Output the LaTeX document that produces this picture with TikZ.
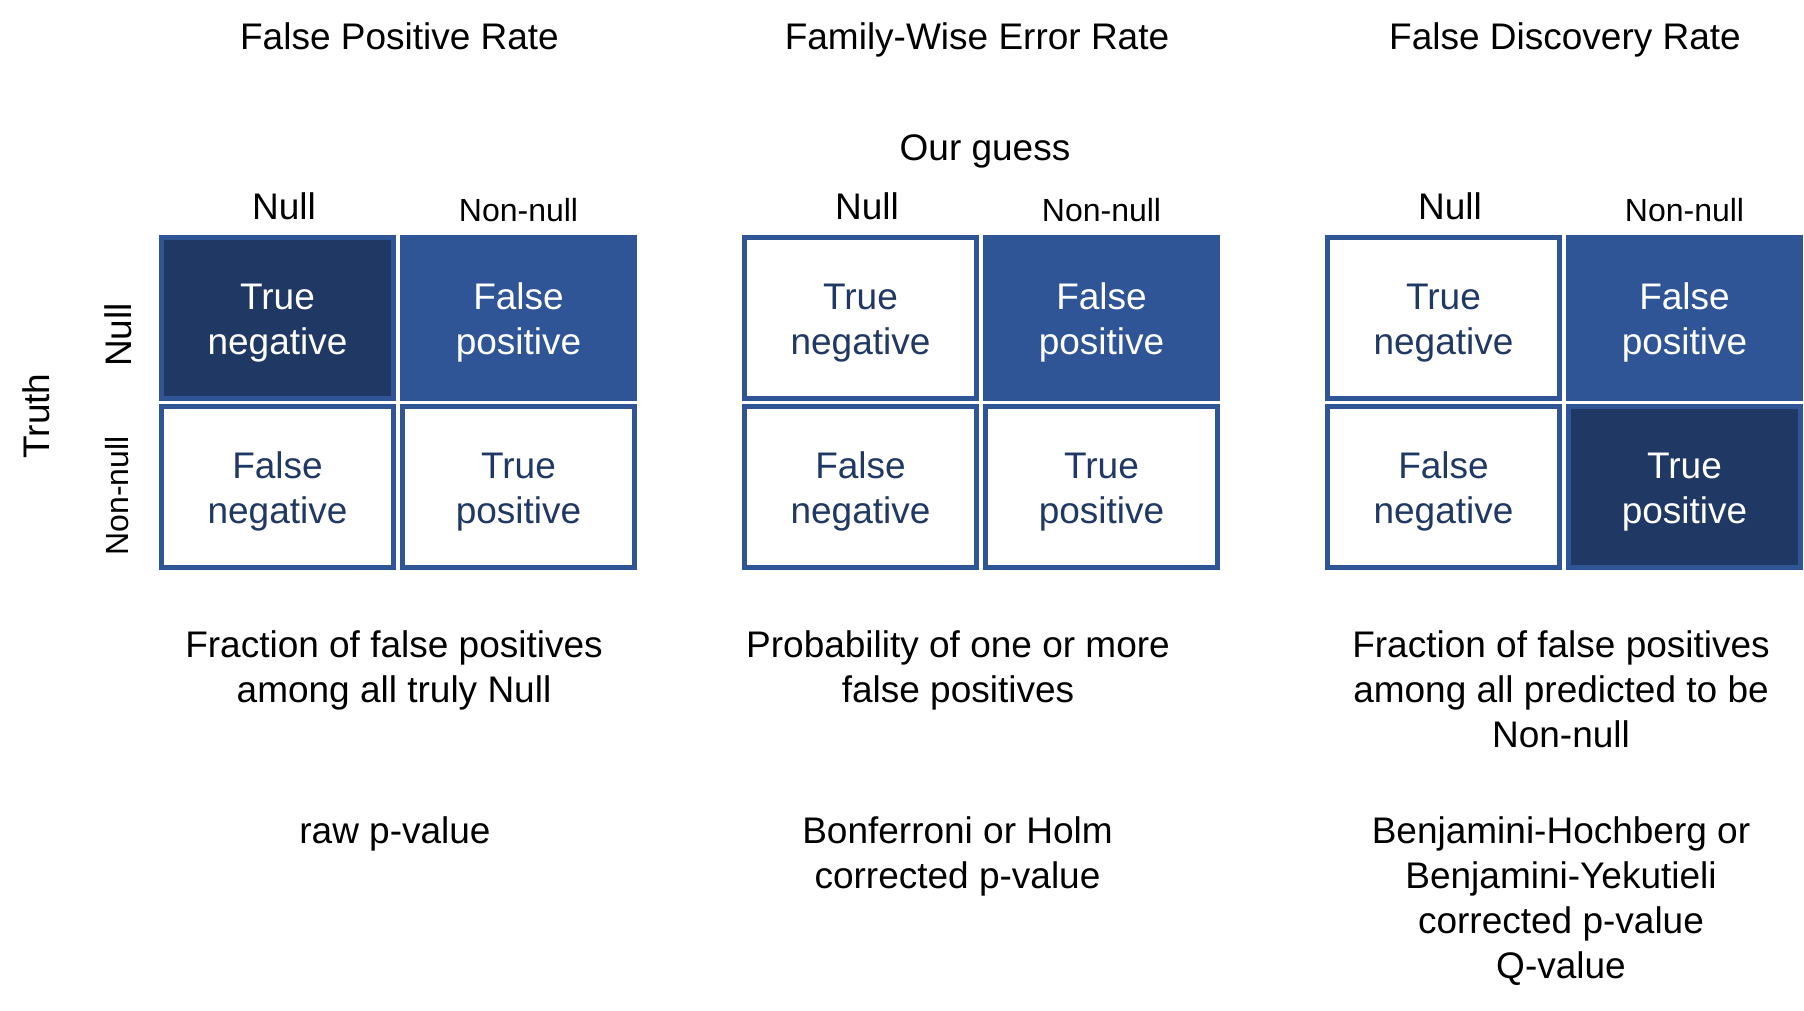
\documentclass[tikz,border=0pt]{standalone}
\usepackage{fontspec}
\setmainfont{Liberation Sans}
\usepackage{xcolor}

\definecolor{cellblue}{RGB}{47,85,151}
\definecolor{cellnavy}{RGB}{32,56,100}

% two lines of a cell, first line pushed down a little
\newcommand{\celltxt}[2]{\rule{0pt}{18pt}#1\\#2}

\tikzset{
  cell/.style={draw=cellblue, line width=2.5pt, minimum width=116pt, minimum height=80.5pt,
    align=center, inner sep=0pt, font=\fontsize{18.5}{22.5}\selectfont},
  cellwhite/.style={cell, fill=white, text=cellnavy},
  cellmid/.style={cell, fill=cellblue, text=white},
  celldark/.style={cell, fill=cellnavy, text=white},
  txt/.style={inner sep=0pt, align=center, font=\fontsize{18.5}{22.5}\selectfont},
  smalltxt/.style={inner sep=0pt, font=\fontsize{16}{19}\selectfont},
}

\begin{document}
\begin{tikzpicture}[x=0.5pt,y=0.5pt,yscale=-1,xscale=1]
		\useasboundingbox (0,0) rectangle (1804,1011);

		% Titles
		\node (fpr) [txt, anchor=base] at (399.5,50) {False Positive Rate};
		\node (fwer) [txt, anchor=base] at (977,50) {Family-Wise Error Rate};
		\node (fdr) [txt, anchor=base] at (1565,50) {False Discovery Rate};
		% Text Node
		\node (guess) [txt, anchor=base] at (985,161) {Our guess};

		% Column headers
		\node (colnullA) [txt, anchor=base] at (284,220) {Null};
		\node (colnonA) [smalltxt, anchor=base] at (518.5,221) {Non-null};
		\node (colnullB) [txt, anchor=base] at (867,220) {Null};
		\node (colnonB) [smalltxt, anchor=base] at (1101.5,221) {Non-null};
		\node (colnullC) [txt, anchor=base] at (1450,220) {Null};
		\node (colnonC) [smalltxt, anchor=base] at (1684.5,221) {Non-null};

		% Row headers
		\node (truth) [txt, rotate=90] at (36,416) {Truth};
		\node (rownull) [txt, rotate=90] at (118,335) {Null};
		\node (rownon) [smalltxt, rotate=90] at (117,496) {Non-null};

		% Grid: false positive rate
		\node (tnA) [celldark] at (277.5,318) {\celltxt{True}{negative}};
		\node (fpA) [cellmid] at (518.5,318) {\celltxt{False}{positive}};
		\node (fnA) [cellwhite] at (277.5,486.5) {\celltxt{False}{negative}};
		\node (tpA) [cellwhite] at (518.5,486.5) {\celltxt{True}{positive}};
		% Grid: family-wise error rate
		\node (tnB) [cellwhite] at (860.5,318) {\celltxt{True}{negative}};
		\node (fpB) [cellmid] at (1101.5,318) {\celltxt{False}{positive}};
		\node (fnB) [cellwhite] at (860.5,486.5) {\celltxt{False}{negative}};
		\node (tpB) [cellwhite] at (1101.5,486.5) {\celltxt{True}{positive}};
		% Grid: false discovery rate
		\node (tnC) [cellwhite] at (1443.5,318) {\celltxt{True}{negative}};
		\node (fpC) [cellmid] at (1684.5,318) {\celltxt{False}{positive}};
		\node (fnC) [cellwhite] at (1443.5,486.5) {\celltxt{False}{negative}};
		\node (tpC) [celldark] at (1684.5,486.5) {\celltxt{True}{positive}};

		% Definitions
		\node (defA) [txt, anchor=north] at (394,630) {Fraction of false positives\\among all truly Null};
		\node (defB) [txt, anchor=north] at (958,630) {Probability of one or more\\false positives};
		\node (defC) [txt, anchor=north] at (1561,630) {Fraction of false positives\\among all predicted to be\\Non-null};

		% Corrections
		\node (corrA) [txt, anchor=base] at (395,843) {raw p-value};
		\node (corrB) [txt, anchor=north] at (957.5,816) {Bonferroni or Holm\\corrected p-value};
		\node (corrC) [txt, anchor=north] at (1561,816) {Benjamini-Hochberg or\\Benjamini-Yekutieli\\corrected p-value\\Q-value};

		\end{tikzpicture}
\end{document}
